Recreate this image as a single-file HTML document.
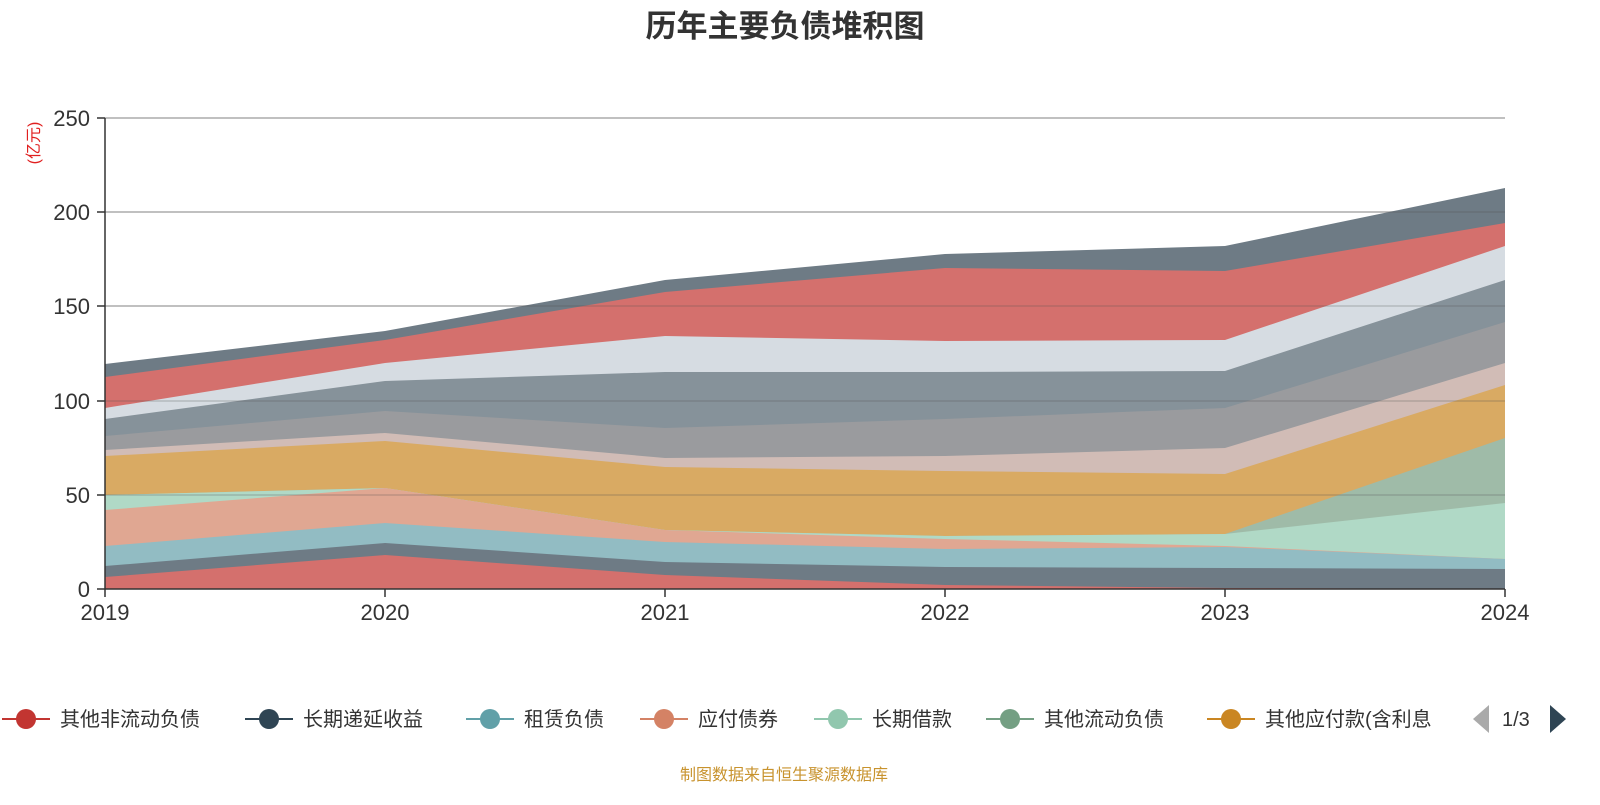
<!DOCTYPE html>
<html><head><meta charset="utf-8"><style>
body{margin:0;background:#fff;width:1600px;height:800px;overflow:hidden;font-family:"Liberation Sans","Noto Sans CJK SC",sans-serif}
</style></head><body>
<svg width="1600" height="800" xmlns="http://www.w3.org/2000/svg" font-family="Liberation Sans, Noto Sans CJK SC, sans-serif">
<text x="785" y="37" text-anchor="middle" font-size="31" font-weight="bold" fill="#333">历年主要负债堆积图</text>
<g stroke="#ccc" stroke-width="1.5">
<line x1="105" y1="118" x2="1505" y2="118"/><line x1="105" y1="212" x2="1505" y2="212"/><line x1="105" y1="306" x2="1505" y2="306"/><line x1="105" y1="401" x2="1505" y2="401"/><line x1="105" y1="495" x2="1505" y2="495"/>
</g>
<g>
<!-- layers top-down drawn as full stacks from bottom -->
<polygon fill="#6e7b85" points="105,364 385,331 665,280 945,254 1225,246 1505,188 1505,589 105,589"/>
<polygon fill="#d4706d" points="105,377 385,340 665,292 945,268 1225,271 1505,223 1505,589 105,589"/>
<polygon fill="#d6dce2" points="105,408 385,363 665,336 945,341 1225,340 1505,246 1505,589 105,589"/>
<polygon fill="#86929a" points="105,419 385,381 665,372 945,372 1225,371 1505,280 1505,589 105,589"/>
<polygon fill="#9a9b9e" points="105,436 385,411 665,428 945,419 1225,408 1505,322 1505,589 105,589"/>
<polygon fill="#d1bcb6" points="105,450 385,433 665,458 945,456 1225,448 1505,363 1505,589 105,589"/>
<polygon fill="#d9aa63" points="105,456 385,441 665,467 945,471 1225,474 1505,385 1505,589 105,589"/>
<polygon fill="#9fbba8" points="105,495 385,488 665,530 945,536 1225,534 1505,438 1505,589 105,589"/>
<polygon fill="#b0d9c6" points="105,495 385,488 665,530 945,536 1225,534 1505,503 1505,589 105,589"/>
<polygon fill="#e0a792" points="105,510 385,488 665,530 945,539 1225,546 1505,559 1505,589 105,589"/>
<polygon fill="#92bcc3" points="105,546 385,523 665,542 945,549 1225,547 1505,559 1505,589 105,589"/>
<polygon fill="#6e7b85" points="105,566 385,543 665,562 945,567 1225,568 1505,569 1505,589 105,589"/>
<polygon fill="#d4706d" points="105,577 385,555 665,575 945,585 1225,588 1505,589 1505,589 105,589"/>
</g>
<g stroke="rgba(80,80,80,0.25)" stroke-width="1.5">
<line x1="105" y1="118" x2="1505" y2="118"/><line x1="105" y1="212" x2="1505" y2="212"/><line x1="105" y1="306" x2="1505" y2="306"/><line x1="105" y1="401" x2="1505" y2="401"/><line x1="105" y1="495" x2="1505" y2="495"/>
</g>
<g stroke="#333" stroke-width="1.5">
<line x1="105" y1="118" x2="105" y2="589"/><line x1="105" y1="589" x2="1505" y2="589"/>
<line x1="97" y1="118" x2="105" y2="118"/><line x1="97" y1="212" x2="105" y2="212"/><line x1="97" y1="306" x2="105" y2="306"/><line x1="97" y1="401" x2="105" y2="401"/><line x1="97" y1="495" x2="105" y2="495"/><line x1="97" y1="589" x2="105" y2="589"/>
<line x1="105" y1="589" x2="105" y2="597"/><line x1="385" y1="589" x2="385" y2="597"/><line x1="665" y1="589" x2="665" y2="597"/><line x1="945" y1="589" x2="945" y2="597"/><line x1="1225" y1="589" x2="1225" y2="597"/><line x1="1505" y1="589" x2="1505" y2="597"/>
</g>
<g font-size="22" fill="#333" text-anchor="end">
<text x="90" y="126">250</text><text x="90" y="220">200</text><text x="90" y="314">150</text><text x="90" y="409">100</text><text x="90" y="503">50</text><text x="90" y="597">0</text>
</g>
<text x="0" y="0" font-size="16" fill="#e02020" transform="translate(39,143) rotate(-90)" text-anchor="middle">(亿元)</text>
<g font-size="22" fill="#333" text-anchor="middle">
<text x="105" y="620">2019</text><text x="385" y="620">2020</text><text x="665" y="620">2021</text><text x="945" y="620">2022</text><text x="1225" y="620">2023</text><text x="1505" y="620">2024</text>
</g>
<g font-size="20" fill="#333">
<line x1="2" y1="719" x2="50" y2="719" stroke="#c23531" stroke-width="2"/><circle cx="26" cy="719" r="10" fill="#c23531"/><text x="60" y="726">其他非流动负债</text>
<line x1="245" y1="719" x2="293" y2="719" stroke="#2f4554" stroke-width="2"/><circle cx="269" cy="719" r="10" fill="#2f4554"/><text x="303" y="726">长期递延收益</text>
<line x1="466" y1="719" x2="514" y2="719" stroke="#61a0a8" stroke-width="2"/><circle cx="490" cy="719" r="10" fill="#61a0a8"/><text x="524" y="726">租赁负债</text>
<line x1="640" y1="719" x2="688" y2="719" stroke="#d48265" stroke-width="2"/><circle cx="664" cy="719" r="10" fill="#d48265"/><text x="698" y="726">应付债券</text>
<line x1="814" y1="719" x2="862" y2="719" stroke="#91c7ae" stroke-width="2"/><circle cx="838" cy="719" r="10" fill="#91c7ae"/><text x="872" y="726">长期借款</text>
<line x1="986" y1="719" x2="1034" y2="719" stroke="#749f83" stroke-width="2"/><circle cx="1010" cy="719" r="10" fill="#749f83"/><text x="1044" y="726">其他流动负债</text>
<line x1="1207" y1="719" x2="1255" y2="719" stroke="#ca8622" stroke-width="2"/><circle cx="1231" cy="719" r="10" fill="#ca8622"/><text x="1265" y="726">其他应付款(含利息</text>
<rect x="1455" y="700" width="15" height="40" fill="#fff"/>
<polygon points="1473,719 1489,705 1489,733" fill="#aaa"/>
<text x="1502" y="726">1/3</text>
<polygon points="1566,719 1550,705 1550,733" fill="#2f4554"/>
</g>
<text x="784" y="780" text-anchor="middle" font-size="16" fill="#c8932e">制图数据来自恒生聚源数据库</text>
</svg>
</body></html>
